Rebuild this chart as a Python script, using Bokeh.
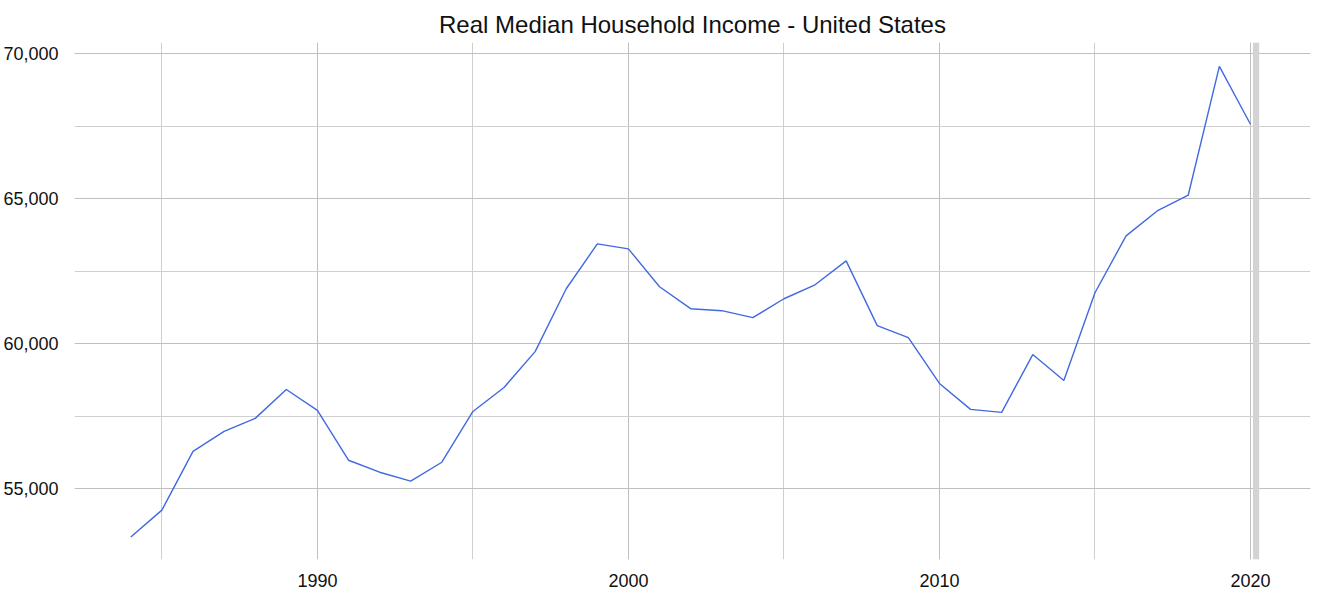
from bokeh.plotting import figure
from bokeh.models import SingleIntervalTicker, NumeralTickFormatter, BoxAnnotation, Range1d
from bokeh.embed import file_html
from bokeh.resources import INLINE

years = list(range(1984, 2021))
income = [53333, 54261, 56289, 56976, 57424, 58420, 57698, 55981, 55568, 55260,
          55912, 57663, 58489, 59725, 61891, 63437, 63265, 61960, 61204, 61135,
          60895, 61547, 62028, 62853, 60620, 60208, 58627, 57733, 57630, 59623,
          58730, 61753, 63712, 64571, 65121, 69553, 67560]
recession_start = 2020.08
recession_end = 2020.28

p = figure(width=1317, height=589, output_backend="svg", toolbar_location=None,
           title="Real Median Household Income - United States",
           x_range=Range1d(1982.19, 2021.93), y_range=Range1d(52560, 70378),
           min_border_left=73, min_border_right=7, min_border_top=42, min_border_bottom=28)

p.title.align = "center"
p.title.text_font = "Liberation Sans"
p.title.text_font_size = "24px"
p.title.text_font_style = "normal"
p.title.text_color = "#111111"

p.outline_line_color = None
p.background_fill_color = "white"

p.add_layout(BoxAnnotation(left=recession_start, right=recession_end,
                           fill_color="#d3d3d3", fill_alpha=1.0, line_color=None,
                           level="underlay"))

p.line(years, income, line_color="#4169E1", line_width=1.4)

p.xaxis.ticker = SingleIntervalTicker(interval=10, num_minor_ticks=2)
p.yaxis.ticker = SingleIntervalTicker(interval=5000, num_minor_ticks=2)
p.yaxis.formatter = NumeralTickFormatter(format="0,0")

for ax in (p.xaxis, p.yaxis):
    ax.axis_line_color = None
    ax.major_tick_line_color = None
    ax.minor_tick_line_color = None
    ax.major_label_text_font = "Liberation Sans"
    ax.major_label_text_font_size = "18px"
    ax.major_label_text_color = "#111111"
p.xaxis.major_label_standoff = 8
p.yaxis.major_label_standoff = 10

for g in (p.xgrid, p.ygrid):
    g.grid_line_color = "#bfbfbf"
    g.grid_line_width = 1
    g.minor_grid_line_color = "#cfcfcf"
    g.minor_grid_line_width = 1

open("out.html", "w").write(file_html(p, INLINE))
